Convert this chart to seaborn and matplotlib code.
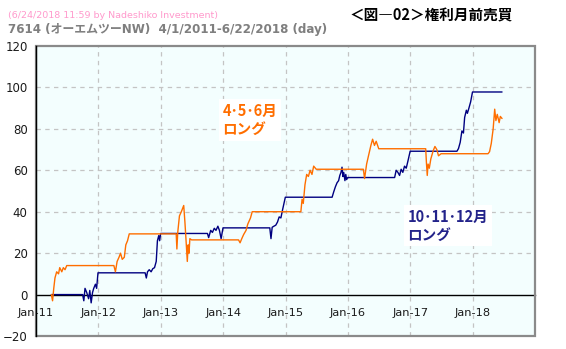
import matplotlib
matplotlib.use("Agg")
import matplotlib.pyplot as plt
import matplotlib.dates as mdates
from matplotlib.patches import Rectangle
import seaborn as sns
import pandas as pd

# ---- data ----
orange_dates = [
    "2011-04-01", "2011-04-08", "2011-04-15", "2011-04-22", "2011-05-02", "2011-05-13",
    "2011-05-20", "2011-06-01", "2011-06-10", "2011-06-20", "2011-06-30",
    "2012-04-01", "2012-04-10", "2012-04-20", "2012-05-01", "2012-05-10", "2012-05-20",
    "2012-06-01", "2012-06-10", "2012-06-20", "2012-06-30",
    "2013-04-01", "2013-04-05", "2013-04-10", "2013-04-20", "2013-05-01", "2013-05-15",
    "2013-05-22", "2013-05-28", "2013-06-05", "2013-06-10", "2013-06-15", "2013-06-20",
    "2013-06-30",
    "2014-04-01", "2014-04-10", "2014-04-20", "2014-05-01", "2014-05-15", "2014-05-25",
    "2014-06-10", "2014-06-20", "2014-06-30",
    "2015-04-01", "2015-04-08", "2015-04-15", "2015-04-25", "2015-05-05", "2015-05-15",
    "2015-05-25", "2015-06-05", "2015-06-15", "2015-06-30",
    "2016-04-01", "2016-04-08", "2016-04-20", "2016-05-01", "2016-05-15", "2016-05-25",
    "2016-06-05", "2016-06-15", "2016-06-30",
    "2017-04-01", "2017-04-05", "2017-04-10", "2017-04-15", "2017-04-22", "2017-05-01",
    "2017-05-15", "2017-05-25", "2017-06-05", "2017-06-15", "2017-06-30",
    "2018-04-01", "2018-04-10", "2018-04-20", "2018-05-01", "2018-05-10", "2018-05-17",
    "2018-05-25", "2018-06-05", "2018-06-12", "2018-06-22",
]
orange_values = [
    0, -3, 3, 8, 11, 10, 13, 11, 13, 12, 14,
    14, 11, 16, 18, 20, 17, 18, 24, 26, 29.3,
    29.3, 22, 30, 38, 40, 43, 35, 27, 16, 24, 20, 27, 26.4,
    26.4, 25, 27, 29, 31, 34, 37, 40, 40,
    40, 46, 44, 53, 58, 57, 60, 58, 62, 60.5,
    60.5, 56, 63, 67, 72, 75, 72, 74, 70.4,
    70.4, 64, 57.5, 63, 61, 65.5, 69.5, 71.5, 70, 67, 68,
    68, 69, 73, 80, 89.5, 84, 87, 83, 86, 85,
]

navy_dates = [
    "2011-04-01", "2011-10-01", "2011-10-08", "2011-10-15", "2011-10-25", "2011-11-05",
    "2011-11-12", "2011-11-20", "2011-11-28", "2011-12-05", "2011-12-15", "2011-12-22",
    "2011-12-30",
    "2012-10-01", "2012-10-08", "2012-10-15", "2012-10-25", "2012-11-05", "2012-11-15",
    "2012-11-25", "2012-12-05", "2012-12-12", "2012-12-20", "2012-12-25", "2012-12-31",
    "2013-10-01", "2013-10-08", "2013-10-20", "2013-10-30", "2013-11-10", "2013-11-20",
    "2013-12-01", "2013-12-10", "2013-12-20", "2013-12-31",
    "2014-10-01", "2014-10-08", "2014-10-15", "2014-10-25", "2014-11-05", "2014-11-15",
    "2014-11-25", "2014-12-05", "2014-12-15", "2014-12-31",
    "2015-10-01", "2015-10-10", "2015-10-20", "2015-10-30", "2015-11-08", "2015-11-15",
    "2015-11-22", "2015-11-28", "2015-12-03", "2015-12-08", "2015-12-15", "2015-12-20",
    "2015-12-25", "2015-12-31",
    "2016-10-01", "2016-10-10", "2016-10-20", "2016-10-30", "2016-11-08", "2016-11-18",
    "2016-11-28", "2016-12-08", "2016-12-18", "2016-12-31",
    "2017-10-01", "2017-10-10", "2017-10-20", "2017-10-30", "2017-11-08", "2017-11-15",
    "2017-11-25", "2017-12-01", "2017-12-10", "2017-12-20", "2017-12-31",
    "2018-06-22",
]
navy_values = [
    0, 0, -3, 3, 1, -2, 2, -4, 1, 3, 5, 3, 10.5,
    10.5, 8, 11, 12, 11, 12.5, 13, 16, 26, 28.5, 26, 29.5,
    29.5, 27.5, 31, 30, 32, 31, 33, 31, 27, 32.2,
    32.2, 27, 32.5, 33, 33.5, 35, 37.5, 37, 41, 47,
    47, 49.5, 52, 54, 55, 57.5, 59, 61.5, 57, 59, 55, 58, 55.5, 56.5,
    56.5, 60, 59, 57.5, 60.5, 59, 62, 61, 64.5, 69.2,
    69.2, 70.5, 73.5, 79, 78, 85.5, 89, 87.5, 90, 93, 97.8,
    97.8,
]

series_names = ["4・5・6月ロング", "10・11・12月ロング"]
y_ticks = [-20, 0, 20, 40, 60, 80, 100, 120]
x_tick_dates = ["2011-01-01", "2012-01-01", "2013-01-01", "2014-01-01",
                "2015-01-01", "2016-01-01", "2017-01-01", "2018-01-01"]
x_tick_labels = ["Jan-11", "Jan-12", "Jan-13", "Jan-14",
                 "Jan-15", "Jan-16", "Jan-17", "Jan-18"]

title_small = "(6/24/2018 11:59 by Nadeshiko Investment)"
title_main = "7614 (オーエムツーNW)  4/1/2011-6/22/2018 (day)"
title_right = "＜図―02＞権利月前売買"
label_orange = "4･5･6月\nロング"
label_navy = "10･11･12月\nロング"

# ---- build frame ----
df = pd.concat([
    pd.DataFrame({"date": pd.to_datetime(orange_dates), "value": orange_values,
                  "series": series_names[0]}),
    pd.DataFrame({"date": pd.to_datetime(navy_dates), "value": navy_values,
                  "series": series_names[1]}),
], ignore_index=True)

sns.set_theme(style="white")
fam = ["DejaVu Sans", "Noto Sans CJK JP"]
plt.rcParams["font.family"] = fam

ORANGE = "#FF6E00"
NAVY = "#000080"
GRID = "#C4C4C4"

fig = plt.figure(figsize=(5.66, 3.49), dpi=100)
fig.patch.set_facecolor("white")
ax = fig.add_axes([36 / 566, 13 / 349, (535 - 36) / 566, (336 - 46) / 349])
ax.set_facecolor("#F3FEFE")

sns.lineplot(data=df, x="date", y="value", hue="series",
             palette={series_names[0]: ORANGE, series_names[1]: NAVY},
             hue_order=[series_names[1], series_names[0]],
             estimator=None, sort=True, linewidth=1.0, legend=False, ax=ax, zorder=3)

ax.set_xlim(pd.Timestamp("2011-01-01"), pd.Timestamp("2019-01-01"))
ax.set_ylim(-20, 120)
ax.set_yticks(y_ticks)
ax.set_xlabel("")
ax.set_ylabel("")

ax.set_xticks(pd.to_datetime(x_tick_dates))
ax.set_xticklabels(x_tick_labels)
ax.xaxis.set_minor_locator(mdates.MonthLocator(bymonth=7))

# grid lines
for yv in [20, 40, 60, 80, 100]:
    ax.axhline(yv, color=GRID, lw=0.9, ls=(0, (3.5, 3.5)), zorder=1)
for d in x_tick_dates[1:]:
    ax.axvline(pd.Timestamp(d), color=GRID, lw=0.9, ls=(0, (3.5, 3.5)), zorder=1)

# spines
for s in ["top", "right"]:
    ax.spines[s].set_visible(False)
ax.spines["bottom"].set_position(("data", 0))
ax.spines["bottom"].set_color("black")
ax.spines["bottom"].set_linewidth(1.0)
ax.spines["left"].set_color("black")
ax.spines["left"].set_linewidth(1.0)
ax.spines["left"].set_zorder(5)
ax.spines["bottom"].set_zorder(2)
ax.add_patch(Rectangle((0, 0), 1, 1, transform=ax.transAxes, fill=False,
                       edgecolor="#8A8A8A", lw=1.6, zorder=4, clip_on=False))

ax.tick_params(axis="y", length=0, pad=6, labelsize=8.5, labelcolor="#1A1A1A")
ax.tick_params(axis="x", which="major", length=3, width=0.8, direction="out",
               pad=6.5, labelsize=8.2, labelcolor="#1A1A1A", color="black")
ax.tick_params(axis="x", which="minor", length=3, width=0.8, direction="out",
               color="black")

# annotations
ax.text(0.374, 0.745, label_orange, transform=ax.transAxes, color=ORANGE,
        fontsize=10.5, fontweight="bold", family=["Noto Sans CJK JP", "DejaVu Sans"],
        va="center", ha="left", linespacing=1.15, zorder=6,
        bbox=dict(boxstyle="square,pad=0.25", fc="white", ec="none"))
ax.text(0.744, 0.38, label_navy, transform=ax.transAxes, color="#23238A",
        fontsize=10.5, fontweight="bold", family=["Noto Sans CJK JP", "DejaVu Sans"],
        va="center", ha="left", linespacing=1.15, zorder=6,
        bbox=dict(boxstyle="square,pad=0.25", fc="white", ec="none"))

# titles
fig.text(8 / 566, 1 - 15 / 349, title_small, color="#FF99CC", fontsize=6.8,
         va="center", ha="left", family=fam)
fig.text(8 / 566, 1 - 30 / 349, title_main, color="#7F7F7F", fontsize=8.6,
         fontweight="bold", va="center", ha="left", family=fam)
fig.text(350 / 566, 1 - 15 / 349, title_right, color="black", fontsize=10.5,
         fontweight="bold", va="center", ha="left",
         family=["Noto Sans CJK JP", "DejaVu Sans"])

fig.savefig("out.png", dpi=100, facecolor="white")
